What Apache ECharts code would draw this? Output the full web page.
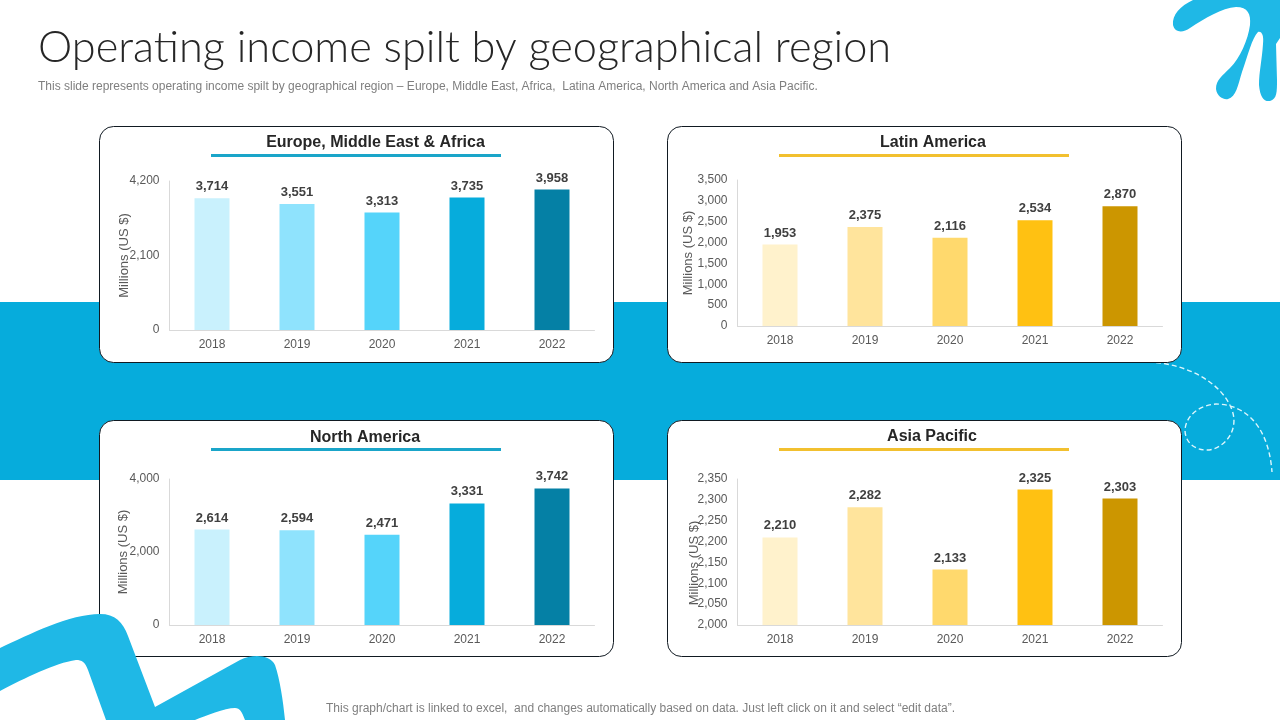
<!DOCTYPE html>
<html>
<head>
<meta charset="utf-8">
<title>Operating income spilt by geographical region</title>
<script src="https://cdn.jsdelivr.net/npm/echarts@6/dist/echarts.min.js"></script>
<style>
    html, body { margin: 0; padding: 0; background: #fff; }
    #demo { width: 1280px; height: 720px; }
</style>
</head>
<body>
<div id="demo"></div>
<script>
var years = ['2018', '2019', '2020', '2021', '2022'];
var blues = ['#C9F1FD', '#8FE3FD', '#55D4FA', '#06ACDC', '#0580A5'];
var yellows = ['#FFF2CC', '#FFE49C', '#FFD96D', '#FFC112', '#CC9600'];
var sans = '"Liberation Sans", Arial, sans-serif';

// background decorations, the graphic component has no plain path type so they are registered as shapes
var dashPath = [[1148,362],[1185,363,1222,382,1232,410],[1240,432,1222,450,1207,450],[1192,450,1185,440,1185,430],[1186,415,1200,405,1216,404],[1240,404,1268,420,1272,472]];
var waveTop = [[0,648],[30,634,70,614,100,614],[115,614,123,622,128,636],[155,707],[240,660],[252,654,270,654,275,665],[280,680,283,700,285,720],[245,720],[242,712,240,708,235,708],[225,708,205,716,195,720],[106,720],[88,670],[85,662,82,660,76,660],[55,663,25,678,0,691]];
var splash = [[1193,0],[1180,6,1172,15,1173,25],[1175,33,1183,33,1190,28],[1205,18,1222,8,1236,7],[1248,7,1251,14,1250,25],[1248,40,1240,58,1230,68],[1222,76,1216,80,1216,89],[1217,97,1224,100,1228,99],[1236,97,1238,85,1242,72],[1248,55,1252,38,1258,32],[1262,31,1264,36,1263,44],[1262,60,1259,72,1259,85],[1260,97,1264,102,1270,101],[1277,99,1277,92,1277,80],[1276,44],[1280,38],[1280,0]];
function drawer(name, pts, close) {
    echarts.graphic.registerShape(name, echarts.graphic.extendShape({
        buildPath: function (ctx) {
            ctx.moveTo(pts[0][0], pts[0][1]);
            for (var k = 1; k < pts.length; k++) {
                var q = pts[k];
                if (q.length == 2) ctx.lineTo(q[0], q[1]);
                else ctx.bezierCurveTo(q[0], q[1], q[2], q[3], q[4], q[5]);
            }
            if (close) ctx.closePath();
        }
    }));
}
drawer('dashCurve', dashPath, false);
drawer('waveShape', waveTop, true);
drawer('splashShape', splash, true);

// one entry per card, box = card position, plot = axis position
var regions = [
    { name: 'Europe, Middle East & Africa', values: [3714, 3551, 3313, 3735, 3958], colors: blues,
      min: 0, max: 4200, interval: 2100, box: [100, 127], plot: [169.5, 181, 425, 149], titleX: 375.5, titleY: 142, lineY: 154, nameGap: 39, namePad: 0 },
    { name: 'Latin America', values: [1953, 2375, 2116, 2534, 2870], colors: yellows,
      min: 0, max: 3500, interval: 500, box: [668, 127], plot: [737.5, 180, 425, 146], titleX: 933, titleY: 142, lineY: 154, nameGap: 43, namePad: 0 },
    { name: 'North America', values: [2614, 2594, 2471, 3331, 3742], colors: blues,
      min: 0, max: 4000, interval: 2000, box: [100, 421], plot: [169.5, 479, 425, 146], titleX: 365, titleY: 437, lineY: 448, nameGap: 40, namePad: 0 },
    { name: 'Asia Pacific', values: [2210, 2282, 2133, 2325, 2303], colors: yellows,
      min: 2000, max: 2350, interval: 50, box: [668, 421], plot: [737.5, 479, 425, 146], titleX: 932, titleY: 436, lineY: 448, nameGap: 37, namePad: 22 }
];

var graphics = [
    { type: 'rect', shape: { x: 0, y: 302, width: 1280, height: 178 }, style: { fill: '#06ACDC' } },
    { type: 'dashCurve', shape: {}, style: { fill: null, stroke: '#DDF6FC', lineWidth: 1.4, lineDash: [5, 3] } }
];

var option = {
    animation: false,
    backgroundColor: '#fff',
    title: [
        { text: 'Operating income spilt by geographical region', left: 38, top: 27, padding: 0,
          textStyle: { fontFamily: 'Lato', fontSize: 43.3, fontWeight: 300, color: '#262626' } },
        { text: 'This slide represents operating income spilt by geographical region – Europe, Middle East, Africa,  Latina America, North America and Asia Pacific.',
          left: 38, top: 81, padding: 0, textStyle: { fontFamily: sans, fontSize: 12, fontWeight: 'normal', color: '#7F7F7F' } },
        { text: 'This graph/chart is linked to excel,  and changes automatically based on data. Just left click on it and select “edit data”.',
          left: 326, top: 703, padding: 0, textStyle: { fontFamily: sans, fontSize: 12, fontWeight: 'normal', color: '#7F7F7F' } }
    ],
    grid: [],
    xAxis: [],
    yAxis: [],
    series: [],
    graphic: { elements: graphics }
};

for (var i = 0; i < regions.length; i++) {
    var r = regions[i];
    // card and the coloured line under its heading
    graphics.push({ type: 'rect', shape: { x: r.box[0] - 0.5, y: r.box[1] - 0.5, width: 514, height: 236, r: 14 },
        style: { fill: '#fff', stroke: '#111A22', lineWidth: 1 } });
    graphics.push({ type: 'rect', shape: { x: r.box[0] + 111, y: r.lineY, width: 290, height: 3 },
        style: { fill: r.colors === blues ? '#1AA5C9' : '#F2C02F' } });

    option.title.push({ text: r.name, left: r.titleX, top: r.titleY - 7, padding: 0, textAlign: 'center',
        textStyle: { fontFamily: sans, fontSize: 16, fontWeight: 'bold', color: '#262626' } });

    option.grid.push({ left: r.plot[0], top: r.plot[1], width: r.plot[2], height: r.plot[3] });
    option.xAxis.push({
        type: 'category', gridIndex: i, data: years,
        axisTick: { show: false },
        axisLine: { lineStyle: { color: '#D9D9D9' } },
        axisLabel: { color: '#595959', fontFamily: sans, fontSize: 12, margin: 9 }
    });
    option.yAxis.push({
        type: 'value', gridIndex: i, min: r.min, max: r.max, interval: r.interval,
        name: 'Millions (US $)', nameLocation: 'middle', nameGap: r.nameGap, nameRotate: 90, nameMoveOverlap: false,
        nameTextStyle: { color: '#595959', fontFamily: sans, fontSize: 13, padding: [0, r.namePad, 0, 0] },
        axisLine: { show: true, lineStyle: { color: '#D9D9D9' } },
        axisTick: { show: false },
        splitLine: { show: false },
        axisLabel: { color: '#595959', fontFamily: sans, fontSize: 12, margin: 10, padding: [5, 0, 0, 0],
            formatter: function (v) { return v.toLocaleString('en-US'); } }
    });

    var bars = [];
    for (var j = 0; j < r.values.length; j++) {
        bars.push({ value: r.values[j], itemStyle: { color: r.colors[j] } });
    }
    option.series.push({
        type: 'bar', name: r.name, xAxisIndex: i, yAxisIndex: i, barWidth: 35, data: bars,
        label: { show: true, position: 'top', distance: 5, color: '#404040', fontFamily: sans, fontSize: 13, fontWeight: 'bold',
            formatter: function (p) { return p.value.toLocaleString('en-US'); } }
    });
}

// splashes go on top of the cards
graphics.push({ type: 'waveShape', shape: {}, style: { fill: '#1FB8E6' } });
graphics.push({ type: 'splashShape', shape: {}, style: { fill: '#1FB8E6' } });

var myChart = echarts.init(document.getElementById('demo'));
myChart.setOption(option);
</script>
</body>
</html>
